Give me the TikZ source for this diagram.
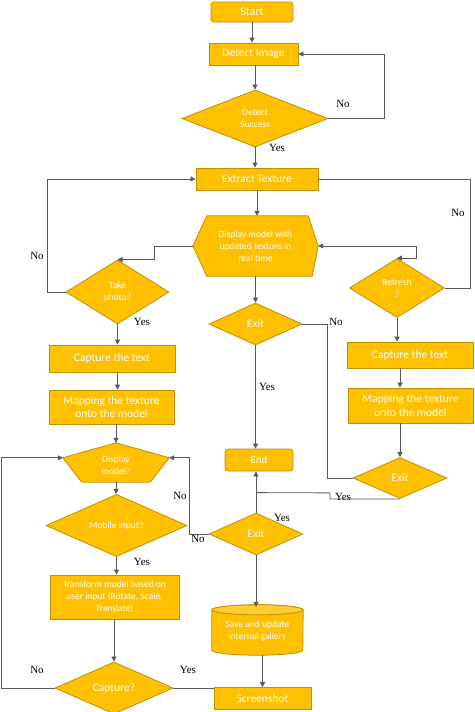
\documentclass[tikz,border=0pt]{standalone}
\usepackage{fontspec}
\setmainfont{Carlito}
\newfontfamily\lblfont{Liberation Serif}
\usetikzlibrary{shapes.geometric,arrows.meta,calc}
\definecolor{gold}{HTML}{FFC000}
\definecolor{goldline}{HTML}{BF9000}
\definecolor{wirec}{HTML}{595959}
\pgfdeclarelayer{bg}
\pgfsetlayers{bg,main}
\begin{document}
\begin{tikzpicture}[x=1pt,y=-1pt,
 box/.style={draw=goldline, fill=gold, line width=0.8pt, text=white, align=center, inner sep=1pt, font=\fontsize{11.5}{13.5}\selectfont},
 rbox/.style={box, rounded corners=3pt},
 dia/.style={diamond, draw=goldline, fill=gold, line width=0.8pt, text=white, align=center, inner sep=0pt, font=\fontsize{9.5}{12}\selectfont},
 ghost/.style={inner sep=0pt, text=white, align=center, font=\fontsize{9.5}{12}\selectfont},
 shp/.style={draw=goldline, fill=gold, line width=0.8pt},
 wire/.style={draw=wirec, line width=0.8pt},
 arr/.style={wire, -{Triangle[length=5pt,width=5pt]}},
 lbl/.style={font=\lblfont\fontsize{11}{12}\selectfont, inner sep=0pt, text=black}
]
\begin{pgfonlayer}{bg}
\fill[white] (0,0) rectangle (474,712);
\end{pgfonlayer}
\useasboundingbox (0,0) rectangle (474,712);

% nodes
\node[rbox, minimum width=82pt, minimum height=20pt, font=\fontsize{12}{13}\selectfont] (start) at (252,12) {Start};
\node[box, minimum width=89pt, minimum height=22pt] (detect) at (253.5,54) {Detect Image};
\node[dia, minimum width=146pt, minimum height=57pt] (succ) at (255,118.5) {Detect\\Success};
\node[box, minimum width=122pt, minimum height=22pt] (extract) at (257,179) {Extract Texture};
\node[ghost, minimum width=125pt, minimum height=60pt] (hex) at (255.5,246) {Display model with\\updated texture in\\real time};
\node[dia, minimum width=103pt, minimum height=64pt] (take) at (117.5,292) {Take\\photo?};
\node[dia, minimum width=93pt, minimum height=42pt, font=\fontsize{11.5}{12}\selectfont] (exit1) at (255.5,324) {Exit};
\node[dia, minimum width=95pt, minimum height=59pt] (refresh) at (397,288) {Refresh\\?};
\node[box, minimum width=126pt, minimum height=27pt] (capL) at (112,358.5) {Capture the text};
\node[box, minimum width=125pt, minimum height=34pt] (mapL) at (111.5,407) {Mapping the texture\\onto the model};
\node[box, minimum width=126pt, minimum height=26pt] (capR) at (410,355) {Capture the text};
\node[box, minimum width=125pt, minimum height=35pt] (mapR) at (410.5,405.5) {Mapping the texture\\onto the model};
\node[rbox, minimum width=68pt, minimum height=22pt, font=\fontsize{11}{12}\selectfont] (end) at (259,460) {End};
\node[dia, minimum width=94pt, minimum height=41pt, font=\fontsize{11.5}{12}\selectfont] (exitR) at (400,478) {Exit};
\node[ghost, minimum width=106pt, minimum height=33pt] (disp) at (116,465.5) {Display\\model?};
\node[dia, minimum width=141pt, minimum height=43pt] (mobile) at (116.5,525.5) {Mobile input?};
\node[dia, minimum width=94pt, minimum height=42pt, font=\fontsize{11.5}{12}\selectfont] (exit2) at (256,534) {Exit};
\node[box, minimum width=129pt, minimum height=44pt, font=\fontsize{9.5}{11.7}\selectfont] (transform) at (114.5,597) {Transform model based on\\user input (Rotate, Scale,\\Translate)};
\node[ghost, minimum width=91pt, minimum height=48pt, font=\fontsize{9.5}{12.3}\selectfont] (cyl) at (257.5,631) {Save and update\\internal gallery};
\node[dia, minimum width=118pt, minimum height=42pt, font=\fontsize{11.5}{12}\selectfont] (capture) at (114,688) {Capture?};
\node[box, minimum width=97pt, minimum height=22pt] (screenshot) at (262.5,698.5) {Screenshot};

\coordinate (apex) at ($(disp.north)+(0,-6)$);
\coordinate (dl) at ($(disp.north west)+(0,9)$);
\coordinate (dr) at ($(disp.north east)+(0,9)$);
\coordinate (j) at ($(exit2.north)+(0,-20)$);

% custom shapes behind text
\begin{pgfonlayer}{bg}
\path[shp] (hex.west) -- ($(hex.north west)+(14,0)$) -- ($(hex.north east)+(-10,0)$) -- (hex.east) -- ($(hex.south east)+(-6,0)$) -- ($(hex.south west)+(14,0)$) -- cycle;
\path[shp] (apex) -- (dr) -- ($(disp.south east)+(-19,0)$) -- ($(disp.south west)+(19,0)$) -- (dl) -- cycle;
\path[shp] ($(cyl.north west)+(0,3)$) -- ($(cyl.south west)+(0,-5)$) arc[start angle=180,end angle=360,x radius=45.5pt,y radius=5pt] -- ($(cyl.north east)+(0,3)$) arc[start angle=0,end angle=180,x radius=45.5pt,y radius=5pt] -- cycle;
\path[shp, fill=gold!80!white] ($(cyl.north)+(0,3)$) ellipse[x radius=45.5pt, y radius=5pt];
\end{pgfonlayer}

% connectors
\draw[arr] (start.south) -- (start.south |- detect.north);
\draw[arr] (detect.south -| succ.north) -- (succ.north);
\draw[arr] (succ.east) -- ++(56,0) |- (detect.east);
\draw[arr] (succ.south) -- (succ.south |- extract.north);
\draw[arr] (extract.south) -- (extract.south |- hex.north);
\draw[arr] (take.west) -- ++(-18,0) |- (extract.west);
\draw[wire] (extract.east) -| ([xshift=25.5pt]refresh.east) -- (refresh.east);
\draw[arr] (hex.west) -- ++(-38,0) |- (take.north);
\draw[wire, {Triangle[length=5pt,width=5pt]}-{Triangle[length=5pt,width=5pt]}] (hex.east) -- ++(98,0) |- (refresh.north);
\draw[arr] (hex.south) -- (hex.south |- exit1.north);
\draw[arr] (take.south) -- (take.south |- capL.north);
\draw[arr] (capL.south -| take.south) -- (take.south |- mapL.north);
\draw[arr] (mapL.south -| apex) -- (apex);
\draw[arr] (exit1.south) -- (exit1.south |- end.north);
\draw[wire] (exit1.east) -- ++(25,0) |- (exitR.west);
\draw[arr] (refresh.south) -- (refresh.south |- capR.north);
\draw[arr] (capR.south -| exitR.north) -- (mapR.north -| exitR.north);
\draw[arr] (mapR.south -| exitR.north) -- (exitR.north);
\draw[arr] (exit2.north) -- (exit2.north |- end.south);
\draw[wire] (exitR.south) -- ++(-70,0) -- ++(0,-6) -- (j);
\draw[arr] (disp.south) -- (disp.south |- mobile.north);
\draw[arr] (mobile.south) -- (mobile.south |- transform.north);
\draw[arr] (transform.south -| capture.north) -- (capture.north);
\draw[arr] (capture.west) -- ++(-53,0) |- (dl);
\draw[arr] (exit2.west) -- ++(-19,0) |- (dr);
\draw[arr] (exit2.south) -- (exit2.south |- cyl.north);
\draw[arr] (cyl.south -| screenshot.north) -- (screenshot.north);
\draw[wire] (capture.east) -- ++(41,0);

% labels
\node[lbl] (l1) at (343,104) {No};
\node[lbl] (l2) at (277,148) {Yes};
\node[lbl] (l3) at (458,213) {No};
\node[lbl] (l4) at (37,256) {No};
\node[lbl] (l5) at (142,322) {Yes};
\node[lbl] (l6) at (336,322) {No};
\node[lbl] (l7) at (267,387) {Yes};
\node[lbl] (l8) at (180,496) {No};
\node[lbl] (l9) at (343,497) {Yes};
\node[lbl] (l10) at (282,518) {Yes};
\node[lbl] (l11) at (198,539) {No};
\node[lbl] (l12) at (142,562) {Yes};
\node[lbl] (l13) at (37,670) {No};
\node[lbl] (l14) at (188,670) {Yes};
\end{tikzpicture}
\end{document}
